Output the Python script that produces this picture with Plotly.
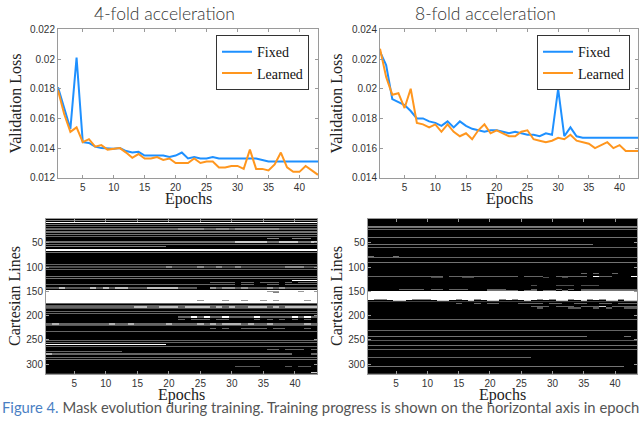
import numpy as np
import plotly.graph_objects as go

EPOCHS = list(range(1, 44))

FIXED_4X = [0.0181, 0.0167, 0.0153, 0.0201, 0.0144, 0.01435, 0.0141, 0.0140, 0.01395, 0.01395,
            0.0140, 0.0138, 0.0137, 0.01375, 0.0135, 0.0135, 0.0135, 0.0135, 0.0134, 0.0135,
            0.0137, 0.0133, 0.0134, 0.0133, 0.0133, 0.0134, 0.0133, 0.0133, 0.0133, 0.0133,
            0.0133, 0.0133, 0.0133, 0.0132, 0.0131, 0.0131, 0.0131, 0.0131, 0.0131, 0.0131,
            0.0131, 0.0131, 0.0131]
LEARNED_4X = [0.0179, 0.0163, 0.0151, 0.0154, 0.0144, 0.0146, 0.0141, 0.0142, 0.0139, 0.01395,
              0.0140, 0.0137, 0.01335, 0.0136, 0.0133, 0.0133, 0.0134, 0.0132, 0.0133, 0.0130,
              0.0130, 0.0130, 0.0133, 0.0130, 0.0131, 0.0131, 0.0127, 0.0127, 0.0128, 0.0128,
              0.0126, 0.0139, 0.0126, 0.0126, 0.0125, 0.0129, 0.0137, 0.0127, 0.0124, 0.0124,
              0.0128, 0.0125, 0.0122]
FIXED_8X = [0.0225, 0.0216, 0.0193, 0.0191, 0.0189, 0.0185, 0.0180, 0.0180, 0.0178, 0.0177,
            0.0175, 0.0178, 0.0174, 0.0178, 0.0175, 0.0173, 0.0172, 0.0171, 0.0172, 0.0172,
            0.0171, 0.0170, 0.0171, 0.0170, 0.0169, 0.0169, 0.0168, 0.0170, 0.0169, 0.0200,
            0.0168, 0.0174, 0.0168, 0.0167, 0.0167, 0.0167, 0.0167, 0.0167, 0.0167, 0.0167,
            0.0167, 0.0167, 0.0167]
LEARNED_8X = [0.0227, 0.0208, 0.0196, 0.0197, 0.0187, 0.0200, 0.0177, 0.0176, 0.0174, 0.0176,
              0.0171, 0.0176, 0.0171, 0.0168, 0.0170, 0.0166, 0.0172, 0.0176, 0.0170, 0.0172,
              0.0170, 0.0168, 0.0168, 0.0171, 0.0172, 0.0166, 0.0165, 0.0164, 0.0165, 0.0167,
              0.0166, 0.0169, 0.0165, 0.0164, 0.0163, 0.0160, 0.0162, 0.0164, 0.0160, 0.0162,
              0.0158, 0.0158, 0.0158]

LOSS_TICKS_4X = [0.012, 0.014, 0.016, 0.018, 0.020, 0.022]
LOSS_LABELS_4X = ["0.012", "0.014", "0.016", "0.018", "0.02", "0.022"]
LOSS_TICKS_8X = [0.014, 0.016, 0.018, 0.020, 0.022, 0.024]
LOSS_LABELS_8X = ["0.014", "0.016", "0.018", "0.02", "0.022", "0.024"]
EPOCH_TICKS = [5, 10, 15, 20, 25, 30, 35, 40]
LINE_TICKS = [50, 100, 150, 200, 250, 300]
N_LINES = 320

# Mask segments: (first line, last line, epochs, sampling value)
MASK_4X = [
    (3, 4, "1-43", 0.5), (7, 9, "1-43", 1.0), (11, 12, "1-43", 0.45), (15, 17, "1-43", 0.35),
    (21, 24, "1-43", 0.4), (21, 24, "22-25,28-29,31-37", 0.55),
    (27, 29, "1-43", 0.45), (32, 33, "1-43", 0.45), (36, 38, "1-43", 0.4),
    (41, 42, "36-37,40-42", 0.5),
    (46, 49, "1-43", 0.45), (46, 49, "31-35,38-40,43", 0.8),
    (54, 55, "1-43", 0.4), (57, 58, "1-19", 0.5), (64, 66, "1-43", 1.0), (69, 70, "1-43", 0.45),
    (95, 96, "1-43", 0.4), (99, 101, "1-43", 0.3), (99, 101, "20,25,28,31,39-41", 0.55),
    (105, 106, "1-43", 0.4), (119, 120, "1-43", 0.45), (124, 125, "1-43", 0.45),
    (128, 129, "40-43", 1.0),
    (132, 133, "27-30,32-33,35-37,39,41-43", 0.4),
    (136, 137, "1-30,32-33,36-37,39-43", 0.4),
    (141, 144, "1-24,27-43", 0.35), (141, 144, "3,8,10,12-13,17-21", 0.75),
    (141, 144, "27,29-30,32,36,38", 0.6),
    (147, 173, "1-43", 1.0), (150, 152, "36-37,41", 0.6), (153, 154, "37", 0.5),
    (168, 169, "25,29,32,35,37,42", 0.6),
    (175, 176, "1-43", 0.4), (179, 180, "1-43", 0.35),
    (182, 184, "1-43", 0.4), (182, 184, "15-16,19-21,23-26,28,30,33-35,37,39-43", 0.75),
    (186, 187, "1-43", 0.3), (192, 193, "1-43", 0.4), (196, 197, "1-43", 0.4),
    (202, 204, "22-23,25,27-28,30-33,35-39,41,43", 0.4), (202, 204, "24,26,29,34,40,42", 1.0),
    (207, 209, "22,24-26,28-29,34,36,38,40,42", 0.4),
    (216, 219, "1-43", 0.4), (216, 219, "2,11,14,20,25,27,29-31,33,36,42", 0.7),
    (221, 222, "1-43", 0.35), (226, 228, "27,29,32-35,37-38,42", 0.4),
    (233, 234, "1-43", 0.4), (251, 253, "1-43", 0.4), (256, 257, "1-43", 0.4),
    (259, 260, "1-19", 1.0), (263, 264, "1-43", 0.4), (270, 271, "36-37,39-41,43", 0.4),
    (274, 275, "1-12", 0.4), (279, 281, "1-39,43", 0.4), (279, 281, "1", 0.7),
    (286, 287, "1-43", 0.4), (291, 292, "1-43", 0.45), (304, 305, "31-34,39,41-42", 0.35),
    (317, 319, "43", 0.8),
]
MASK_8X = [
    (15, 16, "1-43", 0.5), (18, 19, "1-43", 0.45), (23, 24, "1-43", 0.4), (38, 39, "1-43", 0.45),
    (54, 55, "1-36", 0.45), (60, 61, "1-43", 0.4), (77, 78, "1,5", 0.45), (80, 81, "1-43", 0.4),
    (90, 91, "1-43", 0.45), (113, 114, "35,37,40", 0.4),
    (119, 121, "1-12,14-24,26-28,31-35,38-39", 0.4), (119, 121, "37,43", 1.0),
    (122, 123, "11-12,16-17,29,32", 0.3), (138, 139, "27,31-33,35-37", 0.3),
    (145, 147, "6-9,11-12,14-16,20-22,27,31,33,35-43", 0.4),
    (148, 151, "20-24,26-27,29-30,32,35-43", 0.45),
    (151, 167, "1-43", 1.0),
    (166, 168, "2-3,8-10,15,18,22,24,28,30,33,36,38,41", 0.55),
    (168, 169, "5-6,12-13,17,20-21,26,31-32,35,39-40,42-43", 0.8),
    (170, 171, "1-43", 0.25),
    (174, 176, "15,18,20-21,25-28,30-31,34-35,38-39,41-43", 0.4),
    (180, 182, "27-29,31-33,35-37,40-43", 0.4), (180, 182, "38", 0.8),
    (184, 186, "28,33-34,37,39,42-43", 0.35),
    (208, 209, "1-43", 0.4), (231, 232, "1-43", 0.4), (243, 244, "1-35,42", 0.45),
    (252, 253, "1-43", 0.35), (261, 262, "1-43", 0.45), (270, 271, "1-43", 0.4),
    (287, 288, "1-26", 0.4), (304, 305, "1-41", 0.45),
]


def parse_epochs(spec):
    out = []
    for part in spec.split(","):
        if "-" in part:
            a, b = part.split("-")
            out.extend(range(int(a), int(b) + 1))
        else:
            out.append(int(part))
    return out


def build_mask(segments):
    z = np.zeros((N_LINES, len(EPOCHS)))
    for r0, r1, spec, v in segments:
        for e in parse_epochs(spec):
            z[r0 - 1:r1, e - 1] = v
    return z


W, H = 640, 421
BLUE = "rgb(30,144,255)"
ORANGE = "rgb(255,150,30)"
SERIF = "Liberation Serif"
SANS = "Liberation Sans"


def px(x):
    return x / W


def py(y):
    return 1 - y / H


fig = go.Figure()
fig.add_trace(go.Scatter(x=EPOCHS, y=FIXED_4X, name="Fixed", mode="lines",
                         line=dict(color=BLUE, width=2), xaxis="x", yaxis="y", legend="legend"))
fig.add_trace(go.Scatter(x=EPOCHS, y=LEARNED_4X, name="Learned", mode="lines",
                         line=dict(color=ORANGE, width=2), xaxis="x", yaxis="y", legend="legend"))
fig.add_trace(go.Scatter(x=EPOCHS, y=FIXED_8X, name="Fixed", mode="lines",
                         line=dict(color=BLUE, width=2), xaxis="x2", yaxis="y2", legend="legend2"))
fig.add_trace(go.Scatter(x=EPOCHS, y=LEARNED_8X, name="Learned", mode="lines",
                         line=dict(color=ORANGE, width=2), xaxis="x2", yaxis="y2", legend="legend2"))

lines = list(range(1, N_LINES + 1))
gray = [[0, "black"], [1, "white"]]
fig.add_trace(go.Heatmap(z=build_mask(MASK_4X), x=EPOCHS, y=lines, colorscale=gray, zmin=0, zmax=1,
                         showscale=False, xaxis="x3", yaxis="y3", hoverinfo="skip"))
fig.add_trace(go.Heatmap(z=build_mask(MASK_8X), x=EPOCHS, y=lines, colorscale=gray, zmin=0, zmax=1,
                         showscale=False, xaxis="x4", yaxis="y4", hoverinfo="skip"))

axis_common = dict(showgrid=False, zeroline=False, showline=True, mirror="ticks", linecolor="#9a9a9a",
                   linewidth=1, ticks="inside", ticklen=3, tickcolor="#9a9a9a",
                   tickfont=dict(family=SANS, size=10, color="#333333"))

legend_common = dict(xanchor="right", yanchor="top", bgcolor="white", bordercolor="#333333",
                     borderwidth=1, font=dict(family=SERIF, size=14, color="#111"),
                     tracegroupgap=0, itemwidth=30)

fig.update_layout(
    width=W, height=H, margin=dict(l=0, r=0, t=0, b=0),
    paper_bgcolor="white", plot_bgcolor="white",
    xaxis=dict(domain=[px(58), px(318)], range=[1, 43], tickvals=EPOCH_TICKS, anchor="y", **axis_common),
    yaxis=dict(domain=[py(177), py(25)], range=[0.012, 0.022], tickvals=LOSS_TICKS_4X,
               ticktext=LOSS_LABELS_4X, anchor="x", **axis_common),
    xaxis2=dict(domain=[px(380), px(638)], range=[1, 43], tickvals=EPOCH_TICKS, anchor="y2", **axis_common),
    yaxis2=dict(domain=[py(177), py(25)], range=[0.014, 0.024], tickvals=LOSS_TICKS_8X,
                ticktext=LOSS_LABELS_8X, anchor="x2", **axis_common),
    xaxis3=dict(domain=[px(46), px(317)], range=[0.5, 43.5], tickvals=EPOCH_TICKS, anchor="y3", **axis_common),
    yaxis3=dict(domain=[py(378), py(219)], range=[N_LINES + 0.5, 0.5], tickvals=LINE_TICKS,
                anchor="x3", **axis_common),
    xaxis4=dict(domain=[px(368), px(637)], range=[0.5, 43.5], tickvals=EPOCH_TICKS, anchor="y4", **axis_common),
    yaxis4=dict(domain=[py(378), py(219)], range=[N_LINES + 0.5, 0.5], tickvals=LINE_TICKS,
                anchor="x4", **axis_common),
    legend=dict(x=px(309), y=py(31), **legend_common),
    legend2=dict(x=px(630), y=py(31), **legend_common),
    showlegend=True,
)

ann = []
title_font = dict(family="Lato", size=17.5, color="#333333", weight=300)
ann.append(dict(text="4-fold acceleration", x=px(164), y=py(9), font=title_font))
ann.append(dict(text="8-fold acceleration", x=px(485), y=py(9), font=title_font))
lab_font = dict(family=SERIF, size=16, color="#222222")
ann.append(dict(text="Epochs", x=px(188), y=py(199), font=lab_font))
ann.append(dict(text="Epochs", x=px(509), y=py(199), font=lab_font))
ann.append(dict(text="Epochs", x=px(181), y=py(399), font=lab_font))
ann.append(dict(text="Epochs", x=px(502), y=py(399), font=lab_font))
ann.append(dict(text="Validation Loss", x=px(16), y=py(101), textangle=-90, font=lab_font))
ann.append(dict(text="Validation Loss", x=px(337), y=py(101), textangle=-90, font=lab_font))
ann.append(dict(text="Cartesian Lines", x=px(15), y=py(298), textangle=-90, font=lab_font))
ann.append(dict(text="Cartesian Lines", x=px(337), y=py(298), textangle=-90, font=lab_font))
for a in ann:
    a.update(xref="paper", yref="paper", showarrow=False, xanchor="center", yanchor="middle")
fig.update_layout(annotations=ann)
fig.add_annotation(
    text='<span style="color:#4a7fc4">Figure 4.</span> Mask evolution during training. '
         'Training progress is shown on the horizontal axis in epoch',
    xref="paper", yref="paper", x=0, y=py(412), xanchor="left", yanchor="middle", showarrow=False,
    font=dict(family="Lato", size=14.8, color="#555555"))

fig.write_html("out.html", config={"displayModeBar": False},
               post_script="document.body.style.margin='0';document.body.style.overflow='hidden';")
